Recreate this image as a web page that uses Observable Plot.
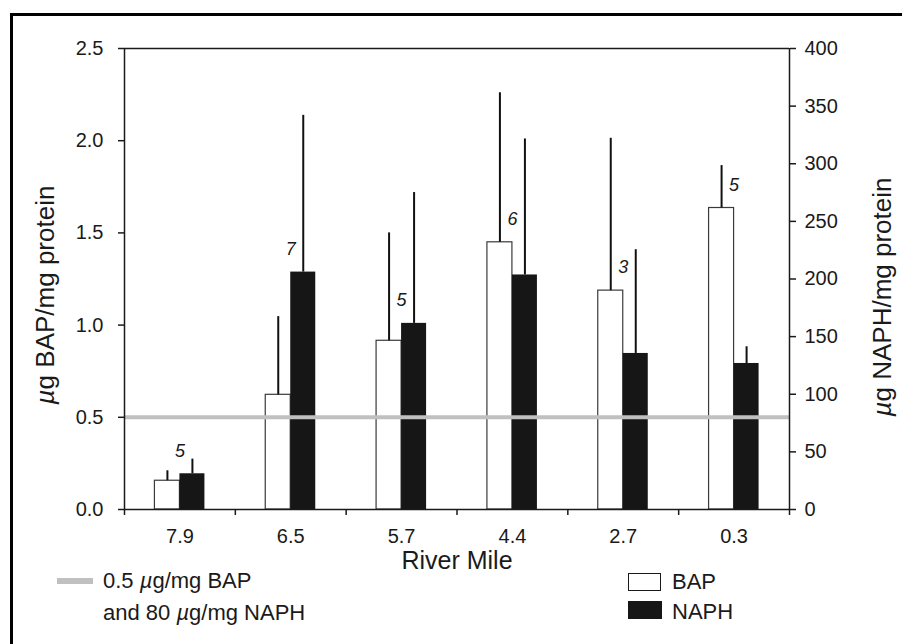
<!DOCTYPE html>
<html>
<head>
<meta charset="utf-8">
<script src="https://cdn.jsdelivr.net/npm/d3@7"></script>
<script src="https://cdn.jsdelivr.net/npm/@observablehq/plot@0.6"></script>
<style>
  html, body { margin: 0; padding: 0; background: #fff; }
  #wrap { position: relative; width: 902px; height: 644px; overflow: hidden;
          font-family: "Liberation Sans", Arial, sans-serif; color: #1a1a1a; }
  #border { position: absolute; left: 10px; top: 13px; width: 900px; height: 640px;
            border-left: 3px solid #000; border-top: 3px solid #000; pointer-events: none; }
  #chart { position: absolute; left: 0; top: 0; }
  .leg { position: absolute; font-size: 22px; line-height: 1; white-space: nowrap; }
  .mu { font-style: italic; }
</style>
</head>
<body>
<div id="wrap">
  <div id="chart"></div>
  <div id="legend"></div>
  <div id="border"></div>
</div>
<script>
// ---- data ----
const riverMiles = ["7.9", "6.5", "5.7", "4.4", "2.7", "0.3"];
const bapMean  = [0.156, 0.622, 0.915, 1.449, 1.187, 1.635];   // µg BAP / mg protein
const bapErr   = [0.054, 0.424, 0.585, 0.811, 0.826, 0.230];
const naphMean = [31, 206, 161.5, 203.5, 135.4, 126.7];        // µg NAPH / mg protein
const naphErr  = [12.7, 136, 113.5, 118, 90, 14.5];
const sampleN  = [5, 7, 5, 6, 3, 5];
const bapTicks  = [0, 0.5, 1.0, 1.5, 2.0, 2.5];
const naphTicks = [0, 50, 100, 150, 200, 250, 300, 350, 400];
const bapThreshold = 0.5;     // equivalent to 80 µg/mg NAPH
const bapMax = 2.5, naphMax = 400;

const k = bapMax / naphMax;   // NAPH -> BAP axis units
const BAR = 0.2256;           // bar width as a fraction of one river-mile slot

const rows = riverMiles.map((rm, i) => ({
  rm, i, bap: bapMean[i], bapErr: bapErr[i], naph: naphMean[i], naphErr: naphErr[i], n: sampleN[i]
}));

const ink = "#1a1a1a";

const plot = Plot.plot({
  width: 902,
  height: 578,
  marginLeft: 124,
  marginRight: 113,
  marginTop: 48,
  marginBottom: 69,
  style: { fontFamily: '"Liberation Sans", Arial, sans-serif', fontSize: "20px", color: ink, background: "transparent" },
  x: { domain: [0, riverMiles.length] },
  y: { domain: [0, bapMax] },
  marks: [
    // BAP bars (white)
    Plot.rect(rows, { x1: d => d.i + 0.5 - BAR, x2: d => d.i + 0.5, y1: 0, y2: "bap",
      fill: "white", stroke: "#3a3a3a", strokeWidth: 1.2 }),
    // NAPH bars (black), drawn on the BAP axis via the right-axis ratio
    Plot.rect(rows, { x1: d => d.i + 0.5, x2: d => d.i + 0.5 + BAR, y1: 0, y2: d => d.naph * k,
      fill: "#161616" }),
    // upward error bars
    Plot.ruleX(rows, { x: d => d.i + 0.5 - BAR / 2, y1: "bap", y2: d => d.bap + d.bapErr,
      stroke: "#111", strokeWidth: 2 }),
    Plot.ruleX(rows, { x: d => d.i + 0.5 + BAR / 2, y1: d => d.naph * k, y2: d => (d.naph + d.naphErr) * k,
      stroke: "#111", strokeWidth: 2 }),
    // threshold line
    Plot.ruleY([bapThreshold], { stroke: "#c0c0c0", strokeWidth: 4 }),
    // plot box lines
    Plot.ruleX([0, riverMiles.length], { stroke: ink, strokeWidth: 1.5 }),
    Plot.ruleY([0, bapMax], { stroke: ink, strokeWidth: 1.5 }),
    // left axis
    Plot.axisY({ anchor: "left", ticks: bapTicks, tickFormat: d => d.toFixed(1), tickSize: 6, tickPadding: 15,
      label: null, fontSize: 20, stroke: ink, strokeWidth: 1.5 }),
    // right axis (NAPH)
    Plot.axisY({ anchor: "right", ticks: naphTicks.map(v => v * k), tickFormat: d => String(Math.round(d / k)),
      tickSize: 6, tickPadding: 9, label: null, fontSize: 20, stroke: ink, strokeWidth: 1.5 }),
    // x axis: boundary ticks and centred labels
    Plot.axisX({ ticks: d3.range(0, riverMiles.length + 1), tickFormat: () => "", tickSize: 6,
      label: null, stroke: ink, strokeWidth: 1.5 }),
    Plot.axisX({ ticks: riverMiles.map((_, i) => i + 0.5), tickFormat: d => riverMiles[Math.floor(d)],
      tickSize: 0, tickPadding: 19, label: null, fontSize: 20 }),
    // sample sizes
    Plot.text(rows, { x: d => d.i + 0.5, y: d => Math.max(d.bap, d.naph * k), dy: -23,
      text: d => String(d.n), fontStyle: "italic", fontSize: 18, fill: ink }),
    // axis titles
    Plot.text(["River Mile"], { frameAnchor: "bottom", lineAnchor: "middle", textAnchor: "middle",
      dy: 51, fontSize: 25, fill: ink }),
    Plot.text(["µg BAP/mg protein"], { frameAnchor: "left", lineAnchor: "middle", textAnchor: "middle",
      rotate: -90, dx: -79, dy: 16, fontSize: 26, fill: ink }),
    Plot.text(["µg NAPH/mg protein"], { frameAnchor: "right", lineAnchor: "middle", textAnchor: "middle",
      rotate: -90, dx: 93, dy: 18, fontSize: 26, fill: ink })
  ]
});

// italicise the Greek mu in the axis titles
d3.select(plot).selectAll("text").each(function () {
  const t = this.textContent;
  if (this.childElementCount === 0 && t.startsWith("µ")) {
    const sel = d3.select(this);
    sel.text(null);
    sel.append("tspan").attr("font-style", "italic").text("µ");
    sel.append("tspan").text(t.slice(1));
  }
});

document.getElementById("chart").appendChild(plot);

// legend (below the plot area)
const legend = document.getElementById("legend");
legend.innerHTML = `
  <div style="position:absolute;left:57px;top:578px;width:36px;height:6px;background:#c0c0c0"></div>
  <div class="leg" style="left:103px;top:570px">0.5 <span class="mu">µ</span>g/mg BAP</div>
  <div class="leg" style="left:103px;top:602px">and 80 <span class="mu">µ</span>g/mg NAPH</div>
  <div style="position:absolute;left:628px;top:573px;width:31px;height:16px;border:1.5px solid ${ink};background:#fff"></div>
  <div style="position:absolute;left:628px;top:601px;width:34px;height:18px;background:#161616"></div>
  <div class="leg" style="left:672px;top:571px">BAP</div>
  <div class="leg" style="left:672px;top:601px">NAPH</div>
`;
</script>
</body>
</html>
